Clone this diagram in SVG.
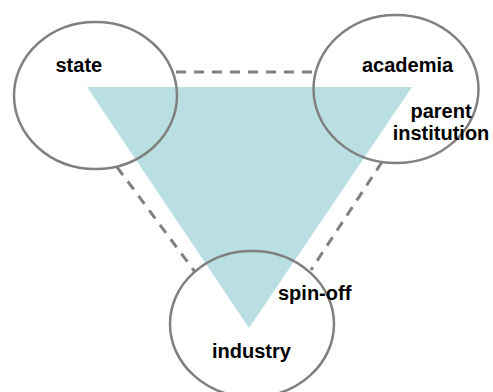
<svg xmlns="http://www.w3.org/2000/svg" width="493" height="392" viewBox="0 0 493 392">
<style>
.node{fill:none;stroke:#808080;stroke-width:2.5}
.conn{stroke:#808080;stroke-width:3;stroke-dasharray:10 8;fill:none}
.lbl{font-family:"Liberation Sans",Arial,sans-serif;font-weight:bold;font-size:20px;fill:#000}
</style>
<rect width="493" height="392" fill="#fff"/>
<polygon id="triangle" points="87,87 412,87 249,328" fill="#b9dfe2"/>
<g id="connectors">
<line class="conn" x1="176" y1="72" x2="313" y2="72"/>
<line class="conn" x1="117" y1="167" x2="195" y2="272"/>
<line class="conn" x1="382" y1="162" x2="311" y2="270"/>
</g>
<g id="state">
<ellipse class="node" cx="95.5" cy="95.5" rx="81.5" ry="73.5"/>
<text class="lbl" x="55.5" y="72">state</text>
</g>
<g id="academia">
<ellipse class="node" cx="396" cy="89" rx="82.5" ry="74"/>
<text class="lbl" x="362" y="72">academia</text>
<text class="lbl" x="441" y="118" text-anchor="middle">parent</text>
<text class="lbl" x="441" y="140" text-anchor="middle">institution</text>
</g>
<g id="industry">
<ellipse class="node" cx="252" cy="324" rx="82" ry="73"/>
<text class="lbl" x="278" y="300">spin-off</text>
<text class="lbl" x="212" y="358">industry</text>
</g>
</svg>
